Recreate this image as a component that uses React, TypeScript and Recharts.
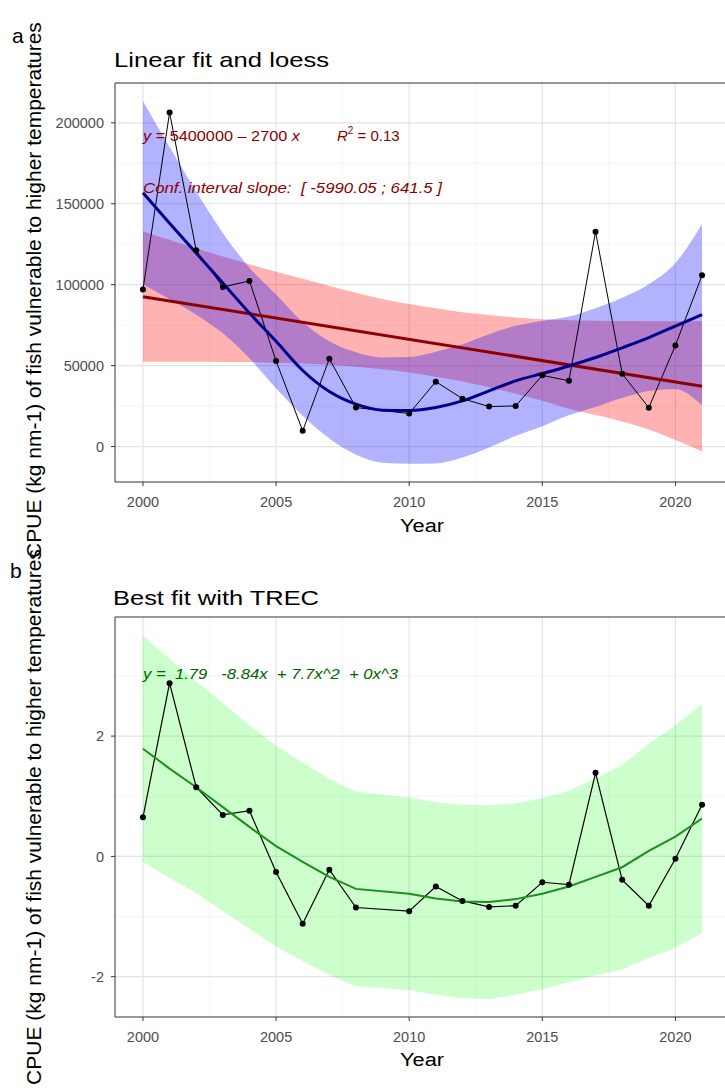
import React from 'react';
import {
  ComposedChart, Line, Area, XAxis, YAxis, CartesianGrid, ReferenceArea,
} from 'recharts';

// ── data ─────────────────────────────────────────────────────────────────────

const years = [2000, 2001, 2002, 2003, 2004, 2005, 2006, 2007, 2008, 2009, 2010,
  2011, 2012, 2013, 2014, 2015, 2016, 2017, 2018, 2019, 2020, 2021];

// panel a: CPUE, linear fit (+ CI) and loess (+ CI)
const cpue = [97000, 206400, 121200, 98600, 102300, 52900, 9700, 54300, 24100, null, 20400,
  40100, 29600, 24700, 25100, 44000, 40600, 132700, 45000, 24000, 62500, 105800];
const linFit = [92600, null, null, null, null, null, null, null, null, null, null,
  null, null, null, null, null, null, null, null, null, null, 37300];
const linLow = [52400, 52400, 52400, 52300, 52200, 51800, 51300, 50500, 49300, 47800, 45800,
  43200, 40200, 36600, 32600, 28300, 23300, 19500, 15500, 10500, 4000, -3000];
const linHigh = [133000, 127600, 122300, 117400, 112700, 108000, 103600, 99200, 95000, 91200, 88000,
  85400, 83000, 81200, 79700, 78700, 78100, 77700, 77500, 77400, 77400, 77600];
const loess = [156800, 138000, 119500, 101000, 82500, 65000, 47000, 34000, 26200, 22500, 22300,
  24100, 28200, 34400, 40600, 45100, 49800, 55000, 61000, 67300, 74400, 81500];
const loessLow = [100200, 91000, 81500, 70000, 54500, 36000, 19000, 5000, -5000, -10000, -10700,
  -10400, -6800, -600, 6600, 12600, 19300, 24500, 30000, 34300, 35400, 25500];
const loessHigh = [213400, 185000, 157500, 132000, 110500, 94000, 77000, 65000, 58200, 55000, 55300,
  58600, 63200, 69400, 74600, 77600, 80300, 85500, 92000, 100300, 113400, 137500];

// panel b: standardised CPUE, TREC polynomial fit (+ CI)
const trec = [0.65, 2.88, 1.15, 0.69, 0.76, -0.26, -1.12, -0.22, -0.85, null, -0.91,
  -0.50, -0.74, -0.84, -0.82, -0.43, -0.47, 1.39, -0.39, -0.82, -0.04, 0.86];
const trecFit = [1.79, 1.46, 1.15, 0.82, 0.49, 0.17, -0.09, -0.34, -0.54, null, -0.62,
  -0.70, -0.75, -0.76, -0.71, -0.62, -0.50, -0.34, -0.18, 0.09, 0.33, 0.63];
const trecLow = [-0.09, -0.36, -0.61, -0.91, -1.20, -1.50, -1.74, -1.97, -2.16, null, -2.22,
  -2.30, -2.36, -2.37, -2.30, -2.21, -2.09, -1.98, -1.88, -1.69, -1.52, -1.27];
const trecHigh = [3.67, 3.28, 2.91, 2.55, 2.18, 1.84, 1.56, 1.29, 1.08, null, 0.98,
  0.90, 0.86, 0.85, 0.88, 0.97, 1.09, 1.30, 1.52, 1.87, 2.18, 2.53];

const xTicks = [2000, 2005, 2010, 2015, 2020];
const xMinor = [2002.5, 2007.5, 2012.5, 2017.5];
const xDomain: [number, number] = [1998.95, 2022.05];

const aTicks = [0, 50000, 100000, 150000, 200000];
const aMinor = [25000, 75000, 125000, 175000];
const aDomain: [number, number] = [-21900, 224600];

const bTicks = [-2, 0, 2];
const bMinor = [-1, 1, 3];
const bDomain: [number, number] = [-2.67, 3.98];

const rowsA = years.map((year, i) => ({
  year,
  cpue: cpue[i],
  lin: linFit[i],
  linBand: [linLow[i], linHigh[i]],
  loess: loess[i],
  loessBand: [loessLow[i], loessHigh[i]],
}));

const rowsB = years.map((year, i) => ({
  year,
  trec: trec[i],
  fit: trecFit[i],
  band: trecLow[i] == null ? null : [trecLow[i], trecHigh[i]],
}));

// ── styling ──────────────────────────────────────────────────────────────────

const FONT = '"Liberation Sans", Arial, sans-serif';
const tickStyle = { fill: '#4d4d4d', fontSize: 14.5, fontFamily: FONT };
const dot = { r: 3, fill: '#000', stroke: '#000', strokeWidth: 0 };

const T = ({ x, y, size, len, fill = '#000', italic = false, anchor = 'start', children }: any) => (
  <text x={x} y={y} fontSize={size} fill={fill} fontStyle={italic ? 'italic' : 'normal'}
    textAnchor={anchor} textLength={len} lengthAdjust={len ? 'spacingAndGlyphs' : undefined}
    style={{ whiteSpace: 'pre' }}>
    {children}
  </text>
);

const axes = (domain: [number, number], ticks: number[]) => [
  <XAxis key="x" type="number" dataKey="year" domain={xDomain} ticks={xTicks} allowDataOverflow
    axisLine={false} tickSize={4} tickMargin={11} tickLine={{ stroke: '#333' }} tick={tickStyle} height={30} />,
  <YAxis key="y" type="number" domain={domain} ticks={ticks} allowDataOverflow
    axisLine={false} tickSize={4} tickMargin={7} tickLine={{ stroke: '#333' }} tick={tickStyle} width={60} />,
];

// ── App ──────────────────────────────────────────────────────────────────────

export default function App() {
  return (
    <div style={{ position: 'fixed', left: 0, top: 0, width: 725, height: 1088, overflow: 'hidden', background: '#fff' }}>
      <div style={{ position: 'absolute', left: 0, top: 0 }}>
        <ComposedChart width={740} height={545} data={rowsA}
          margin={{ top: 83, right: 10, bottom: 33, left: 55 }}>
          <CartesianGrid stroke="#efefef" strokeWidth={0.7}
            horizontalValues={aMinor} verticalValues={xMinor} />
          <CartesianGrid stroke="#e3e3e3" strokeWidth={1.2}
            horizontalValues={aTicks} verticalValues={xTicks} />
          {axes(aDomain, aTicks)}
          <Line dataKey="cpue" stroke="#000" strokeWidth={1} dot={dot} connectNulls
            type="linear" isAnimationActive={false} />
          <Area dataKey="linBand" type="monotone" fill="#ff0000" fillOpacity={0.3} stroke="none"
            isAnimationActive={false} />
          <Line dataKey="lin" stroke="#8b0000" strokeWidth={3} dot={false} connectNulls
            type="linear" isAnimationActive={false} />
          <Area dataKey="loessBand" type="monotone" fill="#0000ff" fillOpacity={0.3} stroke="none"
            isAnimationActive={false} />
          <Line dataKey="loess" stroke="#00008b" strokeWidth={3} dot={false}
            type="monotone" isAnimationActive={false} />
          <ReferenceArea x1={xDomain[0]} x2={xDomain[1]} y1={aDomain[0]} y2={aDomain[1]}
            fill="none" stroke="#333" strokeWidth={1} ifOverflow="visible" />
        </ComposedChart>
      </div>

      <div style={{ position: 'absolute', left: 0, top: 545 }}>
        <ComposedChart width={740} height={543} data={rowsB}
          margin={{ top: 72, right: 10, bottom: 41, left: 55 }}>
          <CartesianGrid stroke="#efefef" strokeWidth={0.7}
            horizontalValues={bMinor} verticalValues={xMinor} />
          <CartesianGrid stroke="#e3e3e3" strokeWidth={1.2}
            horizontalValues={bTicks} verticalValues={xTicks} />
          {axes(bDomain, bTicks)}
          <Line dataKey="trec" stroke="#000" strokeWidth={1.2} dot={dot} connectNulls
            type="linear" isAnimationActive={false} />
          <Area dataKey="band" type="linear" fill="#00ff00" fillOpacity={0.2} stroke="none"
            connectNulls isAnimationActive={false} />
          <Line dataKey="fit" stroke="#1e8c1e" strokeWidth={2} dot={false} connectNulls
            type="linear" isAnimationActive={false} />
          <ReferenceArea x1={xDomain[0]} x2={xDomain[1]} y1={bDomain[0]} y2={bDomain[1]}
            fill="none" stroke="#333" strokeWidth={1} ifOverflow="visible" />
        </ComposedChart>
      </div>

      {/* titles, labels and fitted-equation annotations */}
      <svg width={725} height={1088} style={{ position: 'absolute', left: 0, top: 0, pointerEvents: 'none' }}
        fontFamily={FONT}>
        <T x={12} y={43} size={21}>a</T>
        <T x={10} y={578} size={21}>b</T>
        <T x={114} y={67} size={21} len={215}>Linear fit and loess</T>
        <T x={113} y={605} size={21} len={206}>Best fit with TREC</T>

        <text transform="translate(41,290) rotate(-90)" textAnchor="middle" fontSize={21} fill="#000">
          CPUE (kg nm-1) of fish vulnerable to higher temperatures
        </text>
        <text transform="translate(41,817) rotate(-90)" textAnchor="middle" fontSize={21} fill="#000">
          CPUE (kg nm-1) of fish vulnerable to higher temperatures
        </text>

        <T x={422} y={532} size={18} len={44} anchor="middle">Year</T>
        <T x={422} y={1066} size={18} len={44} anchor="middle">Year</T>

        <T x={143} y={141} size={15} len={157} fill="#8b0000">
          <tspan fontStyle="italic">y</tspan>{' = 5400000 \u2013 2700 '}<tspan fontStyle="italic">x</tspan>
        </T>
        <text x={337} y={141} fontSize={15} fill="#8b0000">
          <tspan fontStyle="italic">R</tspan>
          <tspan fontSize={10} dy={-7}>2</tspan>
          <tspan dy={7}>{' = 0.13'}</tspan>
        </text>
        <T x={143} y={193} size={15} len={299} fill="#8b0000" italic>
          {'Conf. interval slope:  [ -5990.05 ; 641.5 ]'}
        </T>
        <T x={143} y={679} size={15} len={255} fill="#006400" italic>
          {'y =  1.79   -8.84x  + 7.7x^2  + 0x^3'}
        </T>
      </svg>
    </div>
  );
}
